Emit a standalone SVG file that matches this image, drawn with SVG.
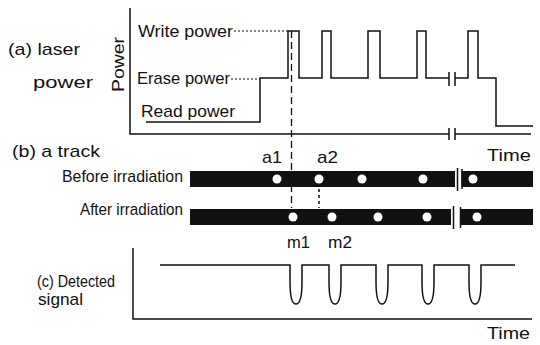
<svg xmlns="http://www.w3.org/2000/svg" width="540" height="345" viewBox="0 0 540 345">
<style>
text{font-family:"Liberation Sans",Arial,sans-serif;fill:#111;font-size:17px}
.ln{fill:none;stroke:#111;stroke-width:1.5}
.dot{fill:none;stroke:#111;stroke-width:1.2;stroke-dasharray:2 2}
.dash{fill:none;stroke:#111;stroke-width:1.3;stroke-dasharray:7 4}
.bar{fill:#111}
.hole{fill:#fff}
</style>
<rect width="540" height="345" fill="#fff"/>

<g id="panel-a">
  <text x="8" y="55" textLength="72" lengthAdjust="spacingAndGlyphs">(a) laser</text>
  <text x="33" y="88" textLength="60" lengthAdjust="spacingAndGlyphs">power</text>
  <text transform="translate(124,92) rotate(-90)" font-size="19" textLength="55" lengthAdjust="spacingAndGlyphs">Power</text>
  <text x="138" y="37" textLength="95" lengthAdjust="spacingAndGlyphs">Write power</text>
  <text x="137" y="84" textLength="93" lengthAdjust="spacingAndGlyphs">Erase power</text>
  <text x="141" y="117" textLength="94" lengthAdjust="spacingAndGlyphs">Read power</text>
  <path class="ln" d="M130 8V134H449M455 134H531M449 128V140M455 128V140"/>
  <path class="dot" d="M234 31H288M231 79H260"/>
  <path class="ln" d="M146 122H260V78H288V31H299V78H322V31H331V78H368V31H380V78H417V31H426V78H449M449 72V86M455 72V86M455 78H468V31H478V78H496V126H533"/>
  <text x="487" y="161" font-size="18" textLength="44" lengthAdjust="spacingAndGlyphs">Time</text>
</g>

<g id="connectors">
  <path class="dash" d="M291.5 31V208"/>
  <path class="ln" stroke-dasharray="3 3" d="M319 189V208"/>
</g>

<g id="panel-b">
  <text x="12" y="157" textLength="88" lengthAdjust="spacingAndGlyphs">(b) a track</text>
  <text x="262" y="163" textLength="20" lengthAdjust="spacingAndGlyphs">a1</text>
  <text x="317" y="163" textLength="21" lengthAdjust="spacingAndGlyphs">a2</text>
  <g id="before">
    <text x="62" y="182" font-size="16" textLength="121" lengthAdjust="spacingAndGlyphs">Before irradiation</text>
    <rect class="bar" x="190" y="171" width="265" height="16"/>
    <rect class="bar" x="461.5" y="171" width="71.5" height="16"/>
    <path class="ln" d="M457.5 168V191M462 169V189"/>
    <circle class="hole" cx="277" cy="179" r="4.5"/>
    <circle class="hole" cx="319" cy="179" r="4.5"/>
    <circle class="hole" cx="362" cy="179" r="4.5"/>
    <circle class="hole" cx="423" cy="179" r="4.5"/>
    <circle class="hole" cx="473" cy="179" r="4.5"/>
  </g>
  <g id="after">
    <text x="80" y="215" font-size="16" textLength="103" lengthAdjust="spacingAndGlyphs">After irradiation</text>
    <rect class="bar" x="190" y="209" width="261" height="16"/>
    <rect class="bar" x="460" y="209" width="73" height="16"/>
    <path class="ln" d="M453.5 206V229M460.5 207V228"/>
    <circle class="hole" cx="293" cy="217" r="4.5"/>
    <circle class="hole" cx="332" cy="217" r="4.5"/>
    <circle class="hole" cx="378" cy="217" r="4.5"/>
    <circle class="hole" cx="427" cy="217" r="4.5"/>
    <circle class="hole" cx="477" cy="217" r="4.5"/>
  </g>
  <text x="287" y="248" textLength="23" lengthAdjust="spacingAndGlyphs">m1</text>
  <text x="328" y="248" textLength="24" lengthAdjust="spacingAndGlyphs">m2</text>
</g>

<g id="panel-c">
  <text x="37" y="287" textLength="78" lengthAdjust="spacingAndGlyphs">(c) Detected</text>
  <text x="38" y="305" textLength="45" lengthAdjust="spacingAndGlyphs">signal</text>
  <path class="ln" d="M133 248V319H532"/>
  <path class="ln" d="M160 265H290V282C290 297 292 304 296 304C300 304 302 297 302 282V265H329V282C329 297 331 304 335 304C339 304 341 297 341 282V265H376V282C376 297 378 304 382 304C386 304 388 297 388 282V265H422V282C422 297 424 304 428 304C432 304 434 297 434 282V265H469V282C469 297 471 304 475 304C479 304 481 297 481 282V265H515"/>
  <text x="487" y="339" font-size="18" textLength="43" lengthAdjust="spacingAndGlyphs">Time</text>
</g>
</svg>
